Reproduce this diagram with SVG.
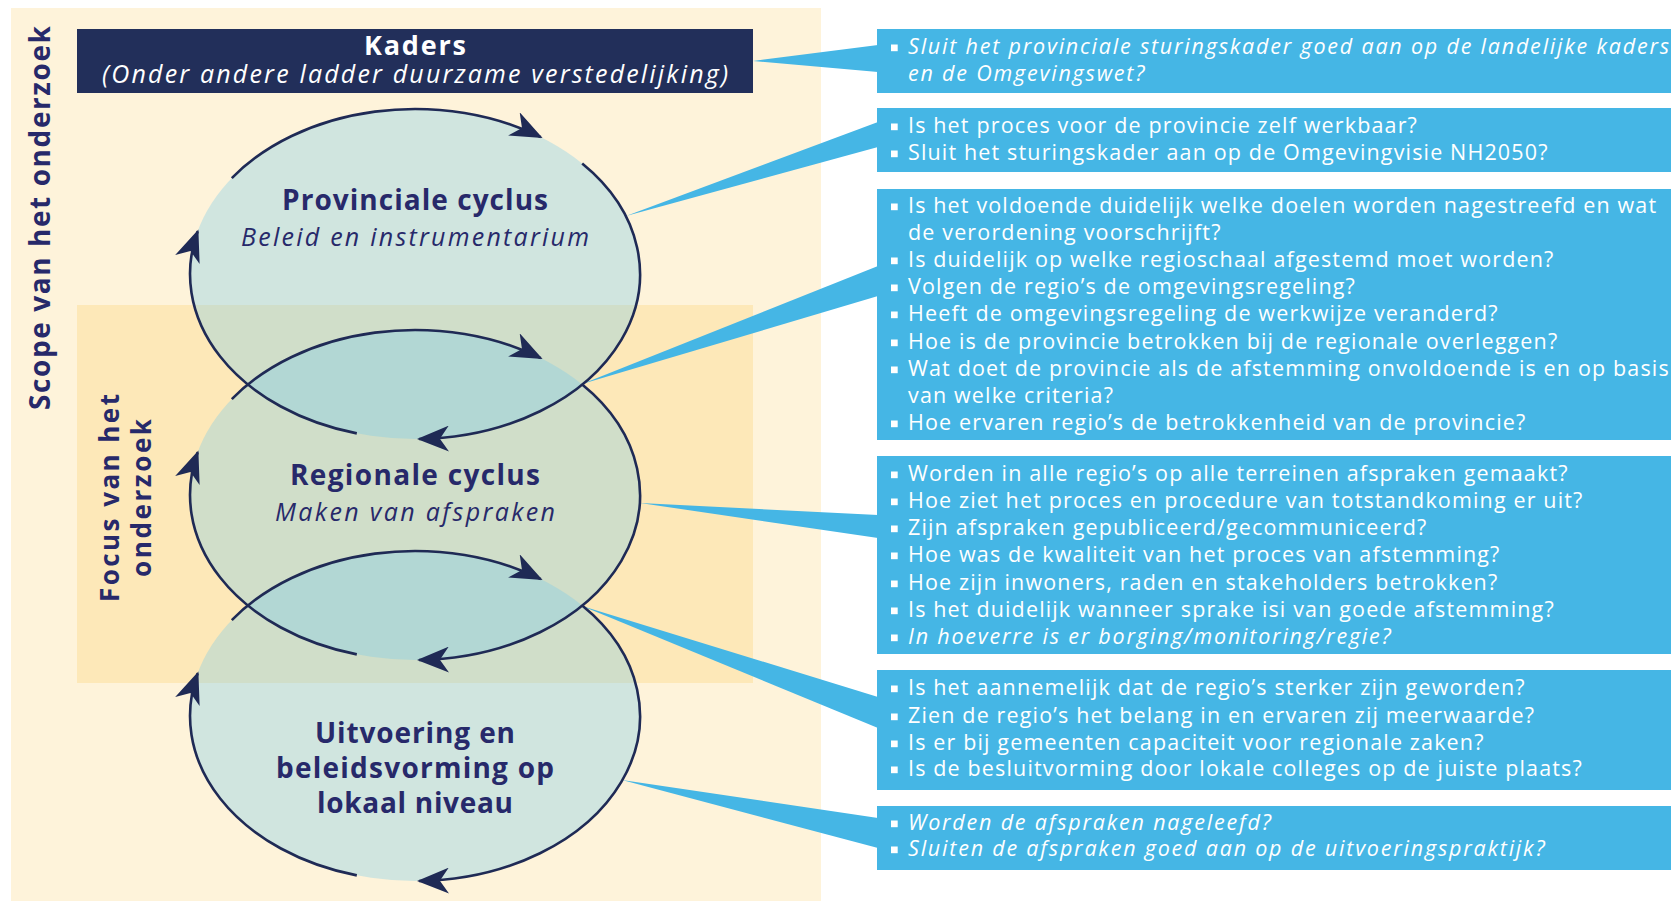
<svg xmlns="http://www.w3.org/2000/svg" width="1671" height="902" viewBox="0 0 1671 902">
<defs>
<style>
.q{font-family:"Open Sans","Liberation Sans",sans-serif;font-size:21.5px;fill:#fff;letter-spacing:1.15px}
.qi{font-style:italic;letter-spacing:1.8px}
.t{font-family:"Open Sans","Liberation Sans",sans-serif;fill:#27296A;text-anchor:middle}
.tb{font-weight:700;font-size:28px}
.ti{font-style:italic;font-size:25px}
.fill{fill:#7BCBE8;fill-opacity:0.35}
.arc{fill:none;stroke:#1F2A55;stroke-width:2.6;marker-end:url(#ah)}
.box{fill:#45B6E5}
.wedge{fill:#45B6E5}
.bul{fill:#fff}
</style>
<marker id="ah" viewBox="0 0 32 26" refX="30" refY="13" markerWidth="32" markerHeight="26" orient="auto" markerUnits="userSpaceOnUse">
<path d="M0,0 L32,13 L0,26 L9,13 z" fill="#1F2A55"/>
</marker>
</defs>
<rect width="1671" height="902" fill="#fff"/>
<g id="scope">
<rect x="11" y="8" width="810" height="893" fill="#FEF3DA"/>
<text class="t" font-weight="700" font-size="28" textLength="384" lengthAdjust="spacing" transform="translate(50,218) rotate(-90)">Scope van het onderzoek</text>
</g>
<g id="focus">
<rect x="77" y="305" width="676" height="378" fill="#FDE8B8"/>
<text class="t" font-weight="700" font-size="26" textLength="208" lengthAdjust="spacing" transform="translate(119,498) rotate(-90)">Focus van het</text>
<text class="t" font-weight="700" font-size="26" textLength="158" lengthAdjust="spacing" transform="translate(151,498) rotate(-90)">onderzoek</text>
</g>
<g id="kaders">
<rect x="77" y="29" width="676" height="64" fill="#222F5A"/>
<text x="415" y="55" text-anchor="middle" font-family="Open Sans, Liberation Sans, sans-serif" font-weight="700" font-size="27" textLength="102" lengthAdjust="spacing" fill="#fff">Kaders</text>
<text x="415" y="83" text-anchor="middle" font-family="Open Sans, Liberation Sans, sans-serif" font-style="italic" font-size="25" textLength="626" lengthAdjust="spacing" fill="#fff">(Onder andere ladder duurzame verstedelijking)</text>
</g>
<g id="connectors">
<polygon class="wedge" points="753,61 878,45 878,72"/>
<polygon class="wedge" points="626,216 878,122 878,147"/>
<polygon class="wedge" points="582,384 878,266 878,296"/>
<polygon class="wedge" points="640,503 878,515 878,538"/>
<polygon class="wedge" points="582,606 878,697 878,728"/>
<polygon class="wedge" points="622,780 878,818 878,848"/>
</g>
<g id="cycles-fill">
<ellipse class="fill" cx="415" cy="274" rx="225" ry="165"/>
<ellipse class="fill" cx="415" cy="495" rx="225" ry="165"/>
<ellipse class="fill" cx="415" cy="716" rx="225" ry="165"/>
</g>
<g id="provinciale-cyclus">
<path class="arc" d="M231.8,178.2 A225,165 0 0 1 540.8,137.2"/>
<path class="arc" d="M582.2,163.6 A225,165 0 0 1 418.9,439"/>
<path class="arc" d="M356.8,433.4 A225,165 0 0 1 197.7,231.3"/>
<text class="t tb" x="415" y="210" textLength="266" lengthAdjust="spacing">Provinciale cyclus</text>
<text class="t ti" x="415" y="246" textLength="348" lengthAdjust="spacing">Beleid en instrumentarium</text>
</g>
<g id="regionale-cyclus">
<path class="arc" d="M231.8,399.2 A225,165 0 0 1 540.8,358.2"/>
<path class="arc" d="M582.2,384.6 A225,165 0 0 1 418.9,660"/>
<path class="arc" d="M356.8,654.4 A225,165 0 0 1 197.7,452.3"/>
<text class="t tb" x="415" y="485" textLength="250" lengthAdjust="spacing">Regionale cyclus</text>
<text class="t ti" x="415" y="521" textLength="280" lengthAdjust="spacing">Maken van afspraken</text>
</g>
<g id="lokaal">
<path class="arc" d="M231.8,620.2 A225,165 0 0 1 540.8,579.2"/>
<path class="arc" d="M582.2,605.6 A225,165 0 0 1 418.9,881"/>
<path class="arc" d="M356.8,875.4 A225,165 0 0 1 197.7,673.3"/>
<text class="t tb" x="415" y="743" textLength="200" lengthAdjust="spacing">Uitvoering en</text>
<text class="t tb" x="415" y="778" textLength="278" lengthAdjust="spacing">beleidsvorming op</text>
<text class="t tb" x="415" y="813" textLength="196" lengthAdjust="spacing">lokaal niveau</text>
</g>
<g id="q1">
<rect class="box" x="877" y="29" width="794" height="64"/>
<rect class="bul" x="891" y="44.5" width="6.7" height="6.7"/>
<text class="q qi" x="908" y="54">Sluit het provinciale sturingskader goed aan op de landelijke kaders</text>
<text class="q qi" x="908" y="81">en de Omgevingswet?</text>
</g>
<g id="q2">
<rect class="box" x="877" y="108" width="794" height="64"/>
<rect class="bul" x="891" y="123.5" width="6.7" height="6.7"/>
<text class="q" x="908" y="133">Is het proces voor de provincie zelf werkbaar?</text>
<rect class="bul" x="891" y="150.5" width="6.7" height="6.7"/>
<text class="q" x="908" y="160">Sluit het sturingskader aan op de Omgevingvisie NH2050?</text>
</g>
<g id="q3">
<rect class="box" x="877" y="189" width="794" height="251"/>
<rect class="bul" x="891" y="203.5" width="6.7" height="6.7"/>
<text class="q" x="908" y="213">Is het voldoende duidelijk welke doelen worden nagestreefd en wat</text>
<text class="q" x="908" y="240">de verordening voorschrijft?</text>
<rect class="bul" x="891" y="257.5" width="6.7" height="6.7"/>
<text class="q" x="908" y="267">Is duidelijk op welke regioschaal afgestemd moet worden?</text>
<rect class="bul" x="891" y="284.5" width="6.7" height="6.7"/>
<text class="q" x="908" y="294">Volgen de regio’s de omgevingsregeling?</text>
<rect class="bul" x="891" y="311.5" width="6.7" height="6.7"/>
<text class="q" x="908" y="321">Heeft de omgevingsregeling de werkwijze veranderd?</text>
<rect class="bul" x="891" y="339.5" width="6.7" height="6.7"/>
<text class="q" x="908" y="349">Hoe is de provincie betrokken bij de regionale overleggen?</text>
<rect class="bul" x="891" y="366.5" width="6.7" height="6.7"/>
<text class="q" x="908" y="376">Wat doet de provincie als de afstemming onvoldoende is en op basis</text>
<text class="q" x="908" y="403">van welke criteria?</text>
<rect class="bul" x="891" y="420.5" width="6.7" height="6.7"/>
<text class="q" x="908" y="430">Hoe ervaren regio’s de betrokkenheid van de provincie?</text>
</g>
<g id="q4">
<rect class="box" x="877" y="456" width="794" height="198"/>
<rect class="bul" x="891" y="471.5" width="6.7" height="6.7"/>
<text class="q" x="908" y="481">Worden in alle regio’s op alle terreinen afspraken gemaakt?</text>
<rect class="bul" x="891" y="498.5" width="6.7" height="6.7"/>
<text class="q" x="908" y="508">Hoe ziet het proces en procedure van totstandkoming er uit?</text>
<rect class="bul" x="891" y="525.5" width="6.7" height="6.7"/>
<text class="q" x="908" y="535">Zijn afspraken gepubliceerd/gecommuniceerd?</text>
<rect class="bul" x="891" y="552.5" width="6.7" height="6.7"/>
<text class="q" x="908" y="562">Hoe was de kwaliteit van het proces van afstemming?</text>
<rect class="bul" x="891" y="580.5" width="6.7" height="6.7"/>
<text class="q" x="908" y="590">Hoe zijn inwoners, raden en stakeholders betrokken?</text>
<rect class="bul" x="891" y="607.5" width="6.7" height="6.7"/>
<text class="q" x="908" y="617">Is het duidelijk wanneer sprake isi van goede afstemming?</text>
<rect class="bul" x="891" y="634.5" width="6.7" height="6.7"/>
<text class="q qi" x="908" y="644">In hoeverre is er borging/monitoring/regie?</text>
</g>
<g id="q5">
<rect class="box" x="877" y="670" width="794" height="120"/>
<rect class="bul" x="891" y="685.5" width="6.7" height="6.7"/>
<text class="q" x="908" y="695">Is het aannemelijk dat de regio’s sterker zijn geworden?</text>
<rect class="bul" x="891" y="713.5" width="6.7" height="6.7"/>
<text class="q" x="908" y="723">Zien de regio’s het belang in en ervaren zij meerwaarde?</text>
<rect class="bul" x="891" y="740.5" width="6.7" height="6.7"/>
<text class="q" x="908" y="750">Is er bij gemeenten capaciteit voor regionale zaken?</text>
<rect class="bul" x="891" y="766.5" width="6.7" height="6.7"/>
<text class="q" x="908" y="776">Is de besluitvorming door lokale colleges op de juiste plaats?</text>
</g>
<g id="q6">
<rect class="box" x="877" y="806" width="794" height="64"/>
<rect class="bul" x="891" y="820.5" width="6.7" height="6.7"/>
<text class="q qi" x="908" y="830">Worden de afspraken nageleefd?</text>
<rect class="bul" x="891" y="846.5" width="6.7" height="6.7"/>
<text class="q qi" x="908" y="856">Sluiten de afspraken goed aan op de uitvoeringspraktijk?</text>
</g>
</svg>
